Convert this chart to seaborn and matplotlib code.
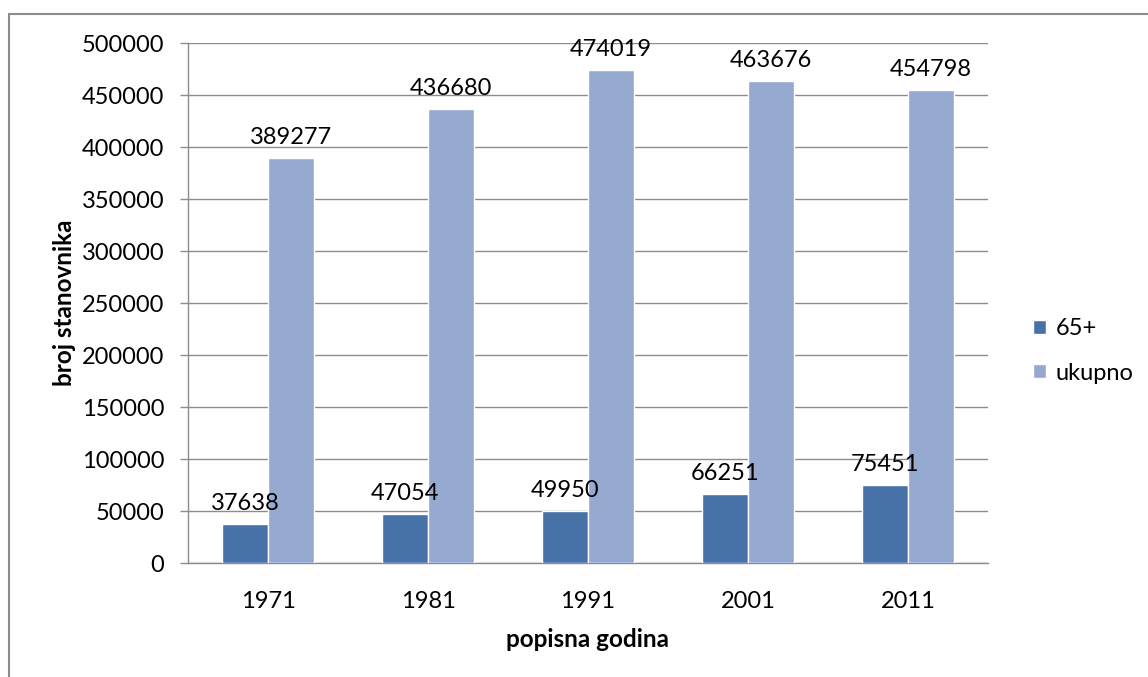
import numpy as np
import pandas as pd
import matplotlib
matplotlib.use('Agg')
import matplotlib.pyplot as plt
import seaborn as sns
from matplotlib.patches import Rectangle

# data
years = ['1971', '1981', '1991', '2001', '2011']
stariji = [37638, 47054, 49950, 66251, 75451]
ukupno = [389277, 436680, 474019, 463676, 454798]

df = pd.DataFrame({
    'godina': years * 2,
    'serija': ['65+'] * 5 + ['ukupno'] * 5,
    'broj': stariji + ukupno,
})

sns.set_theme(style='white', rc={'text.color': 'black', 'axes.labelcolor': 'black',
                                 'xtick.color': 'black', 'ytick.color': 'black'})
plt.rcParams['font.family'] = ['Lato', 'DejaVu Sans']

fig = plt.figure(figsize=(11.48, 6.77), dpi=100)
ax = fig.add_axes([188 / 1148, 1 - 563 / 677, 800 / 1148, 520 / 677])

sns.barplot(data=df, x='godina', y='broj', hue='serija',
            palette=['#4672A8', '#95A9D1'], width=0.57, saturation=1,
            ax=ax, zorder=3)

for cont in ax.containers:
    ax.bar_label(cont, fmt='%d', padding=7, fontsize=17, color='black')

ax.set_ylim(0, 500000)
ax.set_xlim(-0.5, 4.5)
ax.set_yticks(np.arange(0, 500001, 50000))
ax.set_yticklabels([str(v) for v in range(0, 500001, 50000)], fontsize=17)
ax.yaxis.grid(True, color='#8c8c8c', linewidth=1, zorder=0)
ax.set_axisbelow(True)

ax.tick_params(axis='x', which='major', length=0, labelsize=17, pad=20)
ax.set_xticks(np.arange(-0.5, 4.6, 1), minor=True)
ax.tick_params(axis='x', which='minor', length=6, color='#8c8c8c', width=1)
ax.tick_params(axis='y', length=6, color='#8c8c8c', width=1, pad=11, left=True,
               labelcolor='black')
ax.tick_params(axis='x', labelcolor='black')

for s in ['top', 'right']:
    ax.spines[s].set_visible(False)
for s in ['left', 'bottom']:
    ax.spines[s].set_color('#8c8c8c')
    ax.spines[s].set_linewidth(1)

ax.set_xlabel('popisna godina', fontsize=17.5, fontweight='bold', labelpad=12)
ax.set_ylabel('broj stanovnika', fontsize=17.5, fontweight='bold')
ax.yaxis.set_label_coords(-0.14, 0.5)

leg = ax.legend(loc='center left', bbox_to_anchor=(1.045, 0.408), frameon=False,
                fontsize=17, handlelength=0.55, handleheight=0.55,
                handletextpad=0.4, labelspacing=1.0, title=None,
                borderaxespad=0)

# chart border (only left and top edges visible in the original)
fig.patches.append(Rectangle((8.5 / 1148, -0.05), 1.2, 1 - 13.5 / 677 + 0.05,
                             transform=fig.transFigure, fill=False,
                             edgecolor='#8c8c8c', linewidth=1.5))

fig.savefig('out.png', dpi=100)
